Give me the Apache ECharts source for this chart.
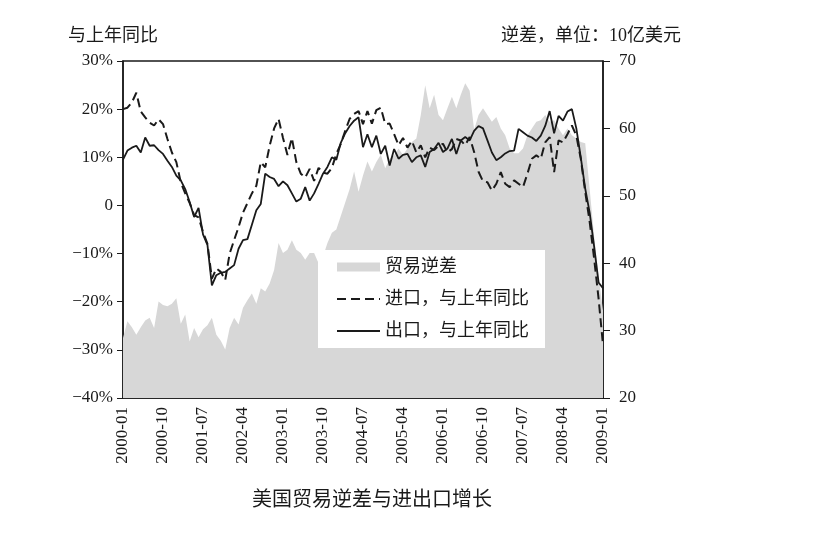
<!DOCTYPE html>
<html>
<head>
<meta charset="utf-8">
<script src="https://cdn.jsdelivr.net/npm/echarts@6/dist/echarts.min.js"></script>
<style>
  html, body { margin: 0; padding: 0; background: #fff; }
  #chart { width: 833px; height: 556px; }
</style>
</head>
<body>
<div id="chart"></div>
<script>
// months 2000-01 .. 2009-01
var months = [];
for (var y = 2000; y <= 2009; y++) {
  for (var m = 1; m <= 12; m++) {
    if (y === 2009 && m > 1) break;
    months.push(y + '-' + (m < 10 ? '0' + m : m));
  }
}

// 贸易逆差, 10亿美元 (right axis)
var deficit = [
  28.9, 31.4, 30.5, 29.4, 30.5, 31.5, 31.9, 30.4, 34.3, 33.8,
  33.6, 34, 34.8, 31, 32.4, 28.4, 30.4, 29, 30.2, 30.8,
  31.9, 29.4, 28.5, 27.2, 30.4, 31.9, 30.9, 33.4, 34.5, 35.5,
  34, 36.3, 35.8, 37, 39, 43, 41.5, 42, 43.4, 42,
  41.5, 40.5, 41.5, 41.5, 40, 41, 43, 44.5, 45, 47,
  49, 51, 53.6, 50.6, 53, 55.1, 53.6, 55, 56.1, 54.1,
  55.5, 56, 57, 56, 57, 58, 58.5, 62, 66.4, 63,
  65, 62, 61.2, 63, 64.7, 63, 65, 66.7, 65.6, 59.8,
  62, 63, 62, 61, 61.7, 60, 59, 57, 56.3, 56.3,
  57, 59, 60, 61, 61.2, 62, 61, 61.2, 60, 59,
  60, 59, 58.5, 58, 57.8, 51, 44, 38, 33
];

// 进口，与上年同比 (%)
var imports = [
  20, 20.3, 21.4, 23.4, 19.5, 18.3, 17.2, 16.6, 17.9, 16.9,
  13.8, 11, 9, 4.8, 2.5, 0.5, -2, -2.5, -5.5, -8,
  -15.2, -13.1, -13.8, -15.5, -10, -7.2, -4.5, -1.5, 0.5, 2.5,
  4.1, 9, 7.9, 12.4, 16, 18, 14, 10.5, 14, 9,
  6.6, 5.8, 7.6, 5.1, 7.8, 6.8, 6.6, 7.8, 10.7, 12.8,
  15.5, 18, 19, 19.6, 16.9, 19.6, 17, 19.8, 20.3, 16.9,
  17, 14.8, 12.5, 14, 12, 13.4, 11, 12.5, 10, 12,
  11.5, 12.4, 12.8, 11, 11.7, 13.8, 13.5, 12.5, 14.2, 11.1,
  7, 5, 4.8, 3.1, 4.5, 6.9, 4.5, 3.8, 5.2, 4.5,
  3.8, 6.6, 9.7, 10.4, 9.7, 13.1, 14.2, 6.9, 13.5, 13.1,
  14.8, 16.6, 14.5, 9.7, 2.8, -3.4, -11, -19.3, -29
];

// 出口，与上年同比 (%)
var exportsYoY = [
  9.5, 11.4, 12, 12.4, 11, 14.1, 12.4, 12.5, 11.5, 10.7,
  9.3, 8, 6.2, 5.2, 3.4, 0.7, -2.4, -0.5, -6, -8.2,
  -16.6, -14.5, -14, -13.8, -13.1, -12.4, -9, -7.2, -7, -4,
  -1, 0.3, 6.6, 5.9, 5.5, 4, 5, 4.2, 2.5, 0.8,
  1.4, 3.8, 1, 2.5, 4.5, 6.6, 8, 10, 9.5, 13,
  15, 16.5, 17.6, 18.3, 12.1, 14.8, 12.1, 14.5, 10.7, 12.4,
  8.3, 11.7, 9.7, 10.5, 10.7, 9, 10, 10.4, 8, 11.1,
  11.7, 13, 11.1, 11.8, 13.8, 10.7, 13.5, 14.2, 13.5, 15.5,
  16.5, 16, 13.5, 11, 9.4, 10, 10.8, 11.3, 11.4, 15.9,
  15.2, 14.5, 14.1, 13.4, 14.5, 16.5, 19.6, 15, 18.6, 17.6,
  19.5, 20, 16, 10, 3.5, -1.5, -8.5, -16, -17.2
];

var serif = "'Liberation Serif', 'Noto Sans CJK SC', serif";
var ink = '#1a1a1a';
var shade = '#d7d7d7';

var chart = echarts.init(document.getElementById('chart'));
var option = {
  backgroundColor: '#fff',
  animation: false,
  title: [
    { text: '与上年同比', left: 63, top: 22,
      textStyle: { fontFamily: serif, fontSize: 18, fontWeight: 'normal', color: ink } },
    { text: '逆差，单位：10亿美元', left: 496, top: 22,
      textStyle: { fontFamily: serif, fontSize: 18, fontWeight: 'normal', color: ink } },
    { text: '美国贸易逆差与进出口增长', left: 247, top: 486,
      textStyle: { fontFamily: serif, fontSize: 20, fontWeight: 'normal', color: ink } }
  ],
  grid: {
    left: 123, right: 230, top: 61, bottom: 158,
    show: true, borderColor: ink, borderWidth: 1.5, backgroundColor: 'transparent'
  },
  legend: {
    orient: 'vertical',
    left: 318, top: 250,
    width: 227,
    padding: [8, 16, 8, 18],
    backgroundColor: '#fff',
    itemWidth: 43, itemHeight: 9, itemGap: 14,
    textStyle: { fontFamily: serif, fontSize: 18, color: ink },
    data: [
      { name: '贸易逆差', icon: 'rect', itemStyle: { color: shade } },
      // hide the marker dot, keep only the line sample
      { name: '进口，与上年同比', itemStyle: { opacity: 0 } },
      { name: '出口，与上年同比', itemStyle: { opacity: 0 } }
    ]
  },
  xAxis: {
    type: 'category',
    data: months,
    boundaryGap: false,
    axisLine: { onZero: false, lineStyle: { color: ink, width: 1.5 } },
    axisTick: { show: false },
    axisLabel: {
      interval: 8, rotate: 90, margin: 9,
      fontFamily: serif, fontSize: 17, color: ink
    },
    splitLine: { show: false }
  },
  yAxis: [
    {
      type: 'value', min: -40, max: 30, interval: 10, position: 'left',
      axisLine: { show: true, lineStyle: { color: ink, width: 1.5 } },
      axisTick: { show: true, length: 6, lineStyle: { color: ink } },
      axisLabel: {
        margin: 10, fontFamily: serif, fontSize: 17, color: ink,
        formatter: function (v) { return v === 0 ? '0' : (v < 0 ? '\u2212' + (-v) : v) + '%'; }
      },
      splitLine: { show: false }
    },
    {
      type: 'value', min: 20, max: 70, interval: 10, position: 'right',
      axisLine: { show: true, lineStyle: { color: ink, width: 1.5 } },
      axisTick: { show: true, length: 7, lineStyle: { color: ink } },
      axisLabel: { margin: 16, fontFamily: serif, fontSize: 17, color: ink },
      splitLine: { show: false }
    }
  ],
  series: [
    {
      name: '贸易逆差',
      type: 'line',
      yAxisIndex: 1,
      data: deficit,
      symbol: 'none',
      lineStyle: { width: 0, color: shade },
      itemStyle: { color: shade },
      areaStyle: { color: shade, opacity: 1, origin: 'start' },
      z: 1
    },
    {
      name: '进口，与上年同比',
      type: 'line',
      data: imports,
      symbol: 'none',
      lineStyle: { color: ink, width: 2, type: [9, 5] },
      itemStyle: { color: ink },
      z: 3
    },
    {
      name: '出口，与上年同比',
      type: 'line',
      data: exportsYoY,
      symbol: 'none',
      lineStyle: { color: ink, width: 1.8 },
      itemStyle: { color: ink },
      z: 4
    }
  ]
};
chart.setOption(option);
</script>
</body>
</html>
